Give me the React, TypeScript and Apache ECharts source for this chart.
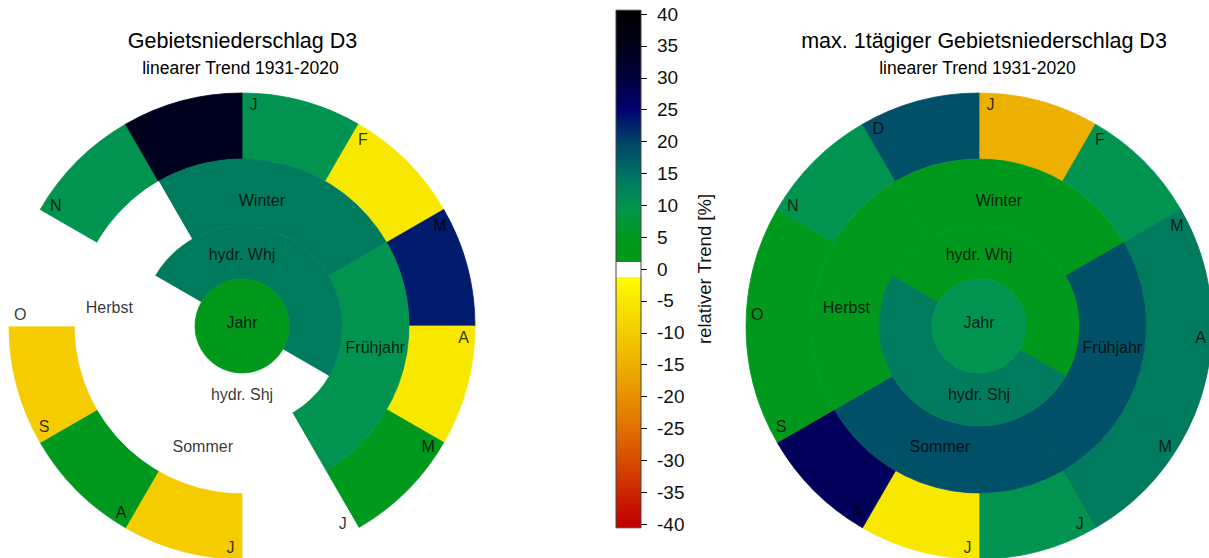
import React, { useEffect, useRef } from "react";
import * as echarts from "echarts";

// ---------- data ----------
const monthNames = ["J", "F", "M", "A", "M", "J", "J", "A", "S", "O", "N", "D"];
const seasonNames = ["Winter", "Frühjahr", "Sommer", "Herbst"];
const halfYearNames = ["hydr. Whj", "hydr. Shj"];
const yearName = "Jahr";

// relative trend [%] per segment (left: Gebietsniederschlag D3)
const leftMonthTrend = [10, -5, 23, -5, 4.5, 0, -10, 4.5, -10, 0, 10, 34];
const leftSeasonTrend = [13.5, 10, 0.5, -0.5];
const leftHalfTrend = [13.5, 0];
const leftYearTrend = 4;

// right: max. 1tägiger Gebietsniederschlag D3
const rightMonthTrend = [-15, 10, 13.5, 13.5, 13.5, 10, -5, 27, 4.5, 4.5, 10, 18.5];
const rightSeasonTrend = [4.5, 18.5, 18.5, 4.5];
const rightHalfTrend = [4.5, 13.5];
const rightYearTrend = 10;

// colour scale (descending values)
const scaleValues = [40, 35, 30, 25, 20, 15, 10, 5, 1.1, 1.1, -1.2, -1.2, -5, -10, -15, -20, -25, -30, -35, -40];
const scaleColors = [
  "#000000", "#000018", "#00003c", "#000070", "#004268", "#007064", "#009450", "#00981e", "#009a18",
  "#ffffff", "#ffffff", "#ffff00", "#f8e800", "#f4cc00", "#eeb000", "#e89000", "#e07000", "#d84c00",
  "#cc2600", "#c00000",
];
const colorbarTicks = { min: -40, max: 40, interval: 5 };
const colorbarExtent = [-40.6, 40.6];

// ---------- helpers ----------
const FONT = "'Liberation Sans', Arial, Helvetica, sans-serif";

function hexToRgb(h: string) {
  return [parseInt(h.slice(1, 3), 16), parseInt(h.slice(3, 5), 16), parseInt(h.slice(5, 7), 16)];
}
function trendColor(v: number) {
  if (v >= scaleValues[0]) return scaleColors[0];
  const n = scaleValues.length;
  if (v <= scaleValues[n - 1]) return scaleColors[n - 1];
  for (let i = 0; i < n - 1; i++) {
    const a = scaleValues[i], b = scaleValues[i + 1];
    if (a === b) continue;
    if (v <= a && v >= b) {
      const t = (a - v) / (a - b);
      const c1 = hexToRgb(scaleColors[i]), c2 = hexToRgb(scaleColors[i + 1]);
      const c = c1.map((x, k) => Math.round(x + (c2[k] - x) * t));
      return `rgb(${c[0]},${c[1]},${c[2]})`;
    }
  }
  return "#ffffff";
}

const RINGS = {
  year: [0, 47],
  half: [47, 100],
  season: [100, 167],
  month: [167, 233],
};

// label placement (radius px, angle deg clockwise from top)
const monthLabelRadius = 222;
const monthLabelAngleOffset = 3;
const halfLabelPos = [[72, 0], [68, 180]];
const seasonLabelPos = [[127, 9], [135, 99], [127, 198], [134, 278]];
const yearLabelPos = [4, 0];

function ring(center: number[], radius: number[], startAngle: number, names: string[], trends: number[], span: number) {
  return {
    type: "pie",
    center,
    radius,
    startAngle,
    clockwise: true,
    silent: true,
    animation: false,
    label: { show: false },
    labelLine: { show: false },
    emphasis: { disabled: true },
    data: names.map((n, i) => {
      const c = trendColor(trends[i]);
      return { name: n, value: span, itemStyle: { color: c, borderColor: c, borderWidth: 0.8 } };
    }),
  };
}

function sunburst(center: number[], polarIndex: number, m: number[], s: number[], h: number[], y: number) {
  const labels = [
    ...monthNames.map((n, i) => ({ name: n, value: [monthLabelRadius, i * 30 + monthLabelAngleOffset] })),
    ...seasonNames.map((n, i) => ({ name: n, value: seasonLabelPos[i] })),
    ...halfYearNames.map((n, i) => ({ name: n, value: halfLabelPos[i] })),
    { name: yearName, value: yearLabelPos },
  ];
  return [
    ring(center, RINGS.month, 90, monthNames, m, 1),
    ring(center, RINGS.season, 120, seasonNames, s, 3),
    ring(center, RINGS.half, 150, halfYearNames, h, 6),
    ring(center, RINGS.year, 90, [yearName], [y], 12),
    {
      type: "scatter",
      coordinateSystem: "polar",
      polarIndex,
      symbolSize: 1,
      silent: true,
      z: 10,
      itemStyle: { color: "transparent" },
      label: {
        show: true,
        position: "inside",
        formatter: "{b}",
        fontSize: 16,
        color: "#000",
        fontFamily: FONT,
      },
      data: labels,
    },
  ];
}

export default function App() {
  const ref = useRef<HTMLDivElement>(null);
  useEffect(() => {
    if (!ref.current) return;
    const chart = echarts.init(ref.current, undefined, { renderer: "svg" });
    const span = colorbarExtent[1] - colorbarExtent[0];
    const stops = [{ offset: 0, color: scaleColors[0] }];
    scaleValues.forEach((v, i) => stops.push({ offset: (colorbarExtent[1] - v) / span, color: scaleColors[i] }));
    stops.push({ offset: 1, color: scaleColors[scaleColors.length - 1] });
    const gradient = new echarts.graphic.LinearGradient(0, 0, 0, 1, stops);

    const leftC = [242, 326];
    const rightC = [979, 326];
    const option: any = {
      animation: false,
      backgroundColor: "#ffffff",
      textStyle: { fontFamily: FONT },
      graphic: [
        { type: "text", x: 242.5, y: 40.5, style: { text: "Gebietsniederschlag D3", font: `21.5px ${FONT}`, fill: "#000", textAlign: "center", textVerticalAlign: "middle" } },
        { type: "text", x: 240.5, y: 67.5, style: { text: "linearer Trend 1931-2020", font: `17.5px ${FONT}`, fill: "#000", textAlign: "center", textVerticalAlign: "middle" } },
        { type: "text", x: 984, y: 40.5, style: { text: "max. 1tägiger Gebietsniederschlag D3", font: `21.5px ${FONT}`, fill: "#000", textAlign: "center", textVerticalAlign: "middle" } },
        { type: "text", x: 977.5, y: 67.5, style: { text: "linearer Trend 1931-2020", font: `17.5px ${FONT}`, fill: "#000", textAlign: "center", textVerticalAlign: "middle" } },
      ],
      polar: [
        { center: leftC, radius: RINGS.month[1] },
        { center: rightC, radius: RINGS.month[1] },
      ],
      angleAxis: [
        { polarIndex: 0, type: "value", min: 0, max: 360, startAngle: 90, clockwise: true, show: false },
        { polarIndex: 1, type: "value", min: 0, max: 360, startAngle: 90, clockwise: true, show: false },
      ],
      radiusAxis: [
        { polarIndex: 0, type: "value", min: 0, max: RINGS.month[1], show: false },
        { polarIndex: 1, type: "value", min: 0, max: RINGS.month[1], show: false },
      ],
      grid: { left: 616, top: 14, width: 25, height: 510 },
      xAxis: { type: "category", data: ["scale"], show: false },
      yAxis: {
        type: "value",
        min: colorbarTicks.min,
        max: colorbarTicks.max,
        interval: colorbarTicks.interval,
        position: "right",
        axisLine: { show: false },
        axisTick: { show: true, length: 6, lineStyle: { color: "#000", width: 1 } },
        splitLine: { show: false },
        axisLabel: { fontSize: 19, color: "#111", margin: 16, fontFamily: FONT },
        name: "relativer Trend [%]",
        nameLocation: "middle",
        nameRotate: 90,
        nameGap: 54,
        nameTextStyle: { fontSize: 18.5, color: "#111", fontFamily: FONT },
      },
      series: [
        ...sunburst(leftC, 0, leftMonthTrend, leftSeasonTrend, leftHalfTrend, leftYearTrend),
        ...sunburst(rightC, 1, rightMonthTrend, rightSeasonTrend, rightHalfTrend, rightYearTrend),
        {
          type: "custom",
          coordinateSystem: "cartesian2d",
          silent: true,
          clip: false,
          data: [[0, colorbarExtent[0], colorbarExtent[1]]],
          renderItem: (params: any, api: any) => {
            const top = api.coord([0, api.value(2)]);
            const bottom = api.coord([0, api.value(1)]);
            const w = api.size([1, 0])[0];
            return {
              type: "rect",
              shape: { x: top[0] - w / 2, y: top[1], width: w, height: bottom[1] - top[1] },
              style: { fill: gradient, stroke: "#444", lineWidth: 1 },
            };
          },
        },
      ],
    };
    chart.setOption(option);
    return () => chart.dispose();
  }, []);
  return (
    <div
      ref={ref}
      style={{ position: "fixed", left: 0, top: 0, width: 1209, height: 558, background: "#fff" }}
    />
  );
}
